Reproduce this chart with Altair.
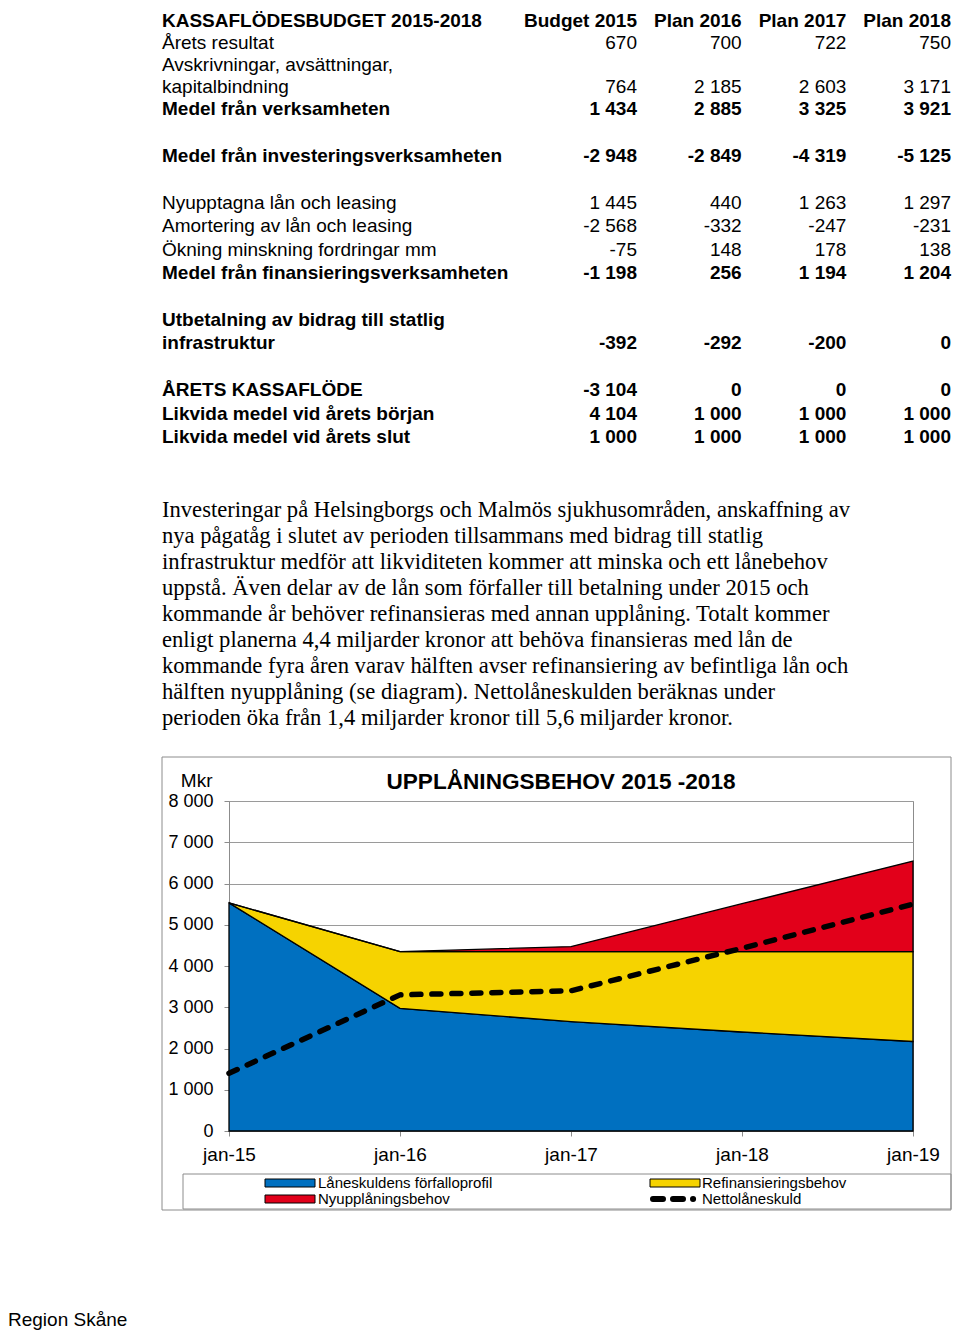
import altair as alt
import pandas as pd

SANS = "Liberation Sans"
SERIF = "Liberation Serif"

# ---------------- table data ----------------
row_labels = [
    "KASSAFLÖDESBUDGET 2015-2018",
    "Årets resultat",
    "Avskrivningar, avsättningar,",
    "kapitalbindning",
    "Medel från verksamheten",
    "",
    "Medel från investeringsverksamheten",
    "",
    "Nyupptagna lån och leasing",
    "Amortering av lån och leasing",
    "Ökning minskning fordringar mm",
    "Medel från finansieringsverksamheten",
    "",
    "Utbetalning av bidrag till statlig",
    "infrastruktur",
    "",
    "ÅRETS KASSAFLÖDE",
    "Likvida medel vid årets början",
    "Likvida medel vid årets slut",
]
row_bold = [1, 0, 0, 0, 1, 0, 1, 0, 0, 0, 0, 1, 0, 1, 1, 0, 1, 1, 1]
col_heads = ["Budget 2015", "Plan 2016", "Plan 2017", "Plan 2018"]
budget_2015 = [None, 670, None, 764, 1434, None, -2948, None, 1445, -2568, -75, -1198, None, None, -392, None, -3104, 4104, 1000]
plan_2016 = [None, 700, None, 2185, 2885, None, -2849, None, 440, -332, 148, 256, None, None, -292, None, 0, 1000, 1000]
plan_2017 = [None, 722, None, 2603, 3325, None, -4319, None, 1263, -247, 178, 1194, None, None, -200, None, 0, 1000, 1000]
plan_2018 = [None, 750, None, 3171, 3921, None, -5125, None, 1297, -231, 138, 1204, None, None, 0, None, 0, 1000, 1000]

paragraph = [
    "Investeringar på Helsingborgs och Malmös sjukhusområden, anskaffning av",
    "nya pågatåg i slutet av perioden tillsammans med bidrag till statlig",
    "infrastruktur medför att likviditeten kommer att minska och ett lånebehov",
    "uppstå. Även delar av de lån som förfaller till betalning under 2015 och",
    "kommande år behöver refinansieras med annan upplåning. Totalt kommer",
    "enligt planerna 4,4 miljarder kronor att behöva finansieras med lån de",
    "kommande fyra åren varav hälften avser refinansiering av befintliga lån och",
    "hälften nyupplåning (se diagram). Nettolåneskulden beräknas under",
    "perioden öka från 1,4 miljarder kronor till 5,6 miljarder kronor.",
]

# ---------------- chart data ----------------
chart_title = "UPPLÅNINGSBEHOV 2015 -2018"
dates = ["jan-15", "jan-16", "jan-17", "jan-18", "jan-19"]
series_names = ["Låneskuldens förfalloprofil", "Refinansieringsbehov", "Nyupplåningsbehov"]
series_colors = ["#0070C0", "#F6D300", "#E2001A"]
forfalloprofil = [5530, 2975, 2650, 2400, 2170]
refinansiering = [0, 1375, 1700, 1950, 2180]
nyupplaning = [0, 0, 120, 1160, 2195]
nettolaneskuld = [1400, 3300, 3400, 4430, 5500]
line_name = "Nettolåneskuld"
footer = "Region Skåne"


def fmt(v):
    return f"{v:,}".replace(",", " ")


label_df = pd.DataFrame({"row": list(range(len(row_labels))), "label": row_labels, "bold": row_bold})
cells = []
for c, (head, vals) in enumerate(zip(col_heads, [budget_2015, plan_2016, plan_2017, plan_2018])):
    cells.append({"row": 0, "c": c, "txt": head, "bold": 1})
    for i, v in enumerate(vals):
        if v is not None:
            cells.append({"row": i, "c": c, "txt": fmt(v), "bold": row_bold[i]})
cell_df = pd.DataFrame(cells)
para_df = pd.DataFrame({"line": list(range(len(paragraph))), "txt": paragraph})

area_rows = []
for k, (name, vals) in enumerate(zip(series_names, [forfalloprofil, refinansiering, nyupplaning])):
    for d, v in zip(dates, vals):
        area_rows.append({"date": d, "name": name, "value": v, "k": k})
area_df = pd.DataFrame(area_rows)
line_df = pd.DataFrame({"date": dates, "net": nettolaneskuld})

leg_df = pd.DataFrame({
    "name": series_names,
    "col": [0, 1, 0],
    "row": [0, 0, 1],
})
leg_txt_df = pd.DataFrame({
    "name": series_names + [line_name],
    "col": [0, 1, 0, 1],
    "row": [0, 0, 1, 1],
})

one = pd.DataFrame({"t": [0]})

color_scale = alt.Scale(domain=series_names, range=series_colors)
table_y = alt.Scale(domain=[0, 1, 4, 18], range=[-780, -758, -692, -364])
table_x = alt.Scale(domain=[0, 3], range=[408, 722])
para_y = alt.Scale(domain=[0, 8], range=[-291, -83])
leg_x = alt.Scale(domain=[0, 1], range=[61, 446])
leg_tx = alt.Scale(domain=[0, 1], range=[89, 473])
leg_y = alt.Scale(domain=[0, 1], range=[382, 398])

# frame around chart and legend box
frame = alt.Chart(one).mark_rect(fill="transparent", stroke="#8c8c8c", strokeWidth=1).encode(
    x=alt.value(-67), x2=alt.value(722), y=alt.value(-44), y2=alt.value(409)
)
legbox = alt.Chart(one).mark_rect(fill="transparent", stroke="#8c8c8c", strokeWidth=1).encode(
    x=alt.value(-46), x2=alt.value(722), y=alt.value(373), y2=alt.value(408)
)

area = alt.Chart(area_df).mark_area(stroke="black", strokeWidth=1.3, opacity=1).encode(
    x=alt.X("date:O", sort=dates, scale=alt.Scale(padding=0),
            axis=alt.Axis(title=None, labelAngle=0, labelFont=SANS, labelFontSize=19,
                          labelColor="black", labelPadding=9, tickSize=5, tickColor="#8c8c8c",
                          domainColor="#8c8c8c", grid=False)),
    y=alt.Y("value:Q", stack="zero", scale=alt.Scale(domain=[0, 8000], nice=False),
            axis=alt.Axis(values=list(range(0, 8001, 1000)),
                          labelExpr="replace(format(datum.value, ','), ',', ' ')",
                          title="Mkr", titleAngle=0, titleAlign="right", titleBaseline="middle",
                          titleX=-17, titleY=-21, titleFont=SANS, titleFontSize=19,
                          titleFontWeight="normal", titleColor="black",
                          labelFont=SANS, labelFontSize=18, labelColor="black", labelPadding=11,
                          tickSize=5, tickColor="#8c8c8c", domainColor="#8c8c8c",
                          grid=True, gridColor="#9a9a9a")),
    color=alt.Color("name:N", scale=color_scale, legend=None),
    order=alt.Order("k:Q"),
)

line = alt.Chart(line_df).mark_line(color="black", strokeWidth=5.5, strokeDash=[9, 11],
                                    strokeCap="round").encode(
    x=alt.X("date:O", sort=dates, scale=alt.Scale(padding=0), axis=None),
    y=alt.Y("net:Q", scale=alt.Scale(domain=[0, 8000], nice=False), axis=None),
)

title = alt.Chart(one).mark_text(font=SANS, fontSize=22.6, fontWeight="bold", color="black",
                                 align="center", baseline="middle").encode(
    x=alt.value(332), y=alt.value(-19), text=alt.value(chart_title)
)

lab_bold = alt.Chart(label_df).transform_filter("datum.bold == 1").mark_text(
    align="left", baseline="middle", font=SANS, fontSize=19, fontWeight="bold", color="black"
).encode(x=alt.value(-67), y=alt.Y("row:Q", scale=table_y, axis=None), text="label:N")
lab_norm = alt.Chart(label_df).transform_filter("datum.bold == 0").mark_text(
    align="left", baseline="middle", font=SANS, fontSize=19, color="black"
).encode(x=alt.value(-67), y=alt.Y("row:Q", scale=table_y, axis=None), text="label:N")
val_bold = alt.Chart(cell_df).transform_filter("datum.bold == 1").mark_text(
    align="right", baseline="middle", font=SANS, fontSize=19, fontWeight="bold", color="black"
).encode(x=alt.X("c:Q", scale=table_x, axis=None), y=alt.Y("row:Q", scale=table_y, axis=None), text="txt:N")
val_norm = alt.Chart(cell_df).transform_filter("datum.bold == 0").mark_text(
    align="right", baseline="middle", font=SANS, fontSize=19, color="black"
).encode(x=alt.X("c:Q", scale=table_x, axis=None), y=alt.Y("row:Q", scale=table_y, axis=None), text="txt:N")

para = alt.Chart(para_df).mark_text(align="left", baseline="middle", font=SERIF, fontSize=22.6,
                                    color="black").encode(
    x=alt.value(-67), y=alt.Y("line:Q", scale=para_y, axis=None), text="txt:N"
)

swatch = alt.Chart(leg_df).mark_point(
    shape="M-1,-0.16L1,-0.16L1,0.16L-1,0.16Z", size=2500, filled=True,
    stroke="black", strokeWidth=1, opacity=1
).encode(
    x=alt.X("col:Q", scale=leg_x, axis=None),
    y=alt.Y("row:Q", scale=leg_y, axis=None),
    color=alt.Color("name:N", scale=color_scale, legend=None),
)
leg_text = alt.Chart(leg_txt_df).mark_text(align="left", baseline="middle", font=SANS,
                                           fontSize=15, color="black").encode(
    x=alt.X("col:Q", scale=leg_tx, axis=None),
    y=alt.Y("row:Q", scale=leg_y, axis=None),
    text="name:N",
)
leg_dash = alt.Chart(one).mark_rule(color="black", strokeWidth=6, strokeCap="round",
                                    strokeDash=[10, 10, 10, 10, 0.1, 100]).encode(
    x=alt.value(424), x2=alt.value(471), y=alt.value(398)
)

foot = alt.Chart(one).mark_text(align="left", baseline="alphabetic", font=SANS, fontSize=19,
                                color="black").encode(
    x=alt.value(-221), y=alt.value(525), text=alt.value(footer)
)

chart = alt.layer(
    frame, legbox, area, line, title,
    lab_bold, lab_norm, val_bold, val_norm, para,
    swatch, leg_text, leg_dash, foot,
).resolve_scale(x="independent", y="independent").properties(
    width=684, height=330,
    padding={"left": 221, "top": 793, "right": 39, "bottom": 201},
    autosize=alt.AutoSizeParams(type="none"),
    background="white",
).configure_view(stroke="#8c8c8c", strokeWidth=1)

chart.save("out.html", embed_options={"renderer": "svg", "actions": False})
